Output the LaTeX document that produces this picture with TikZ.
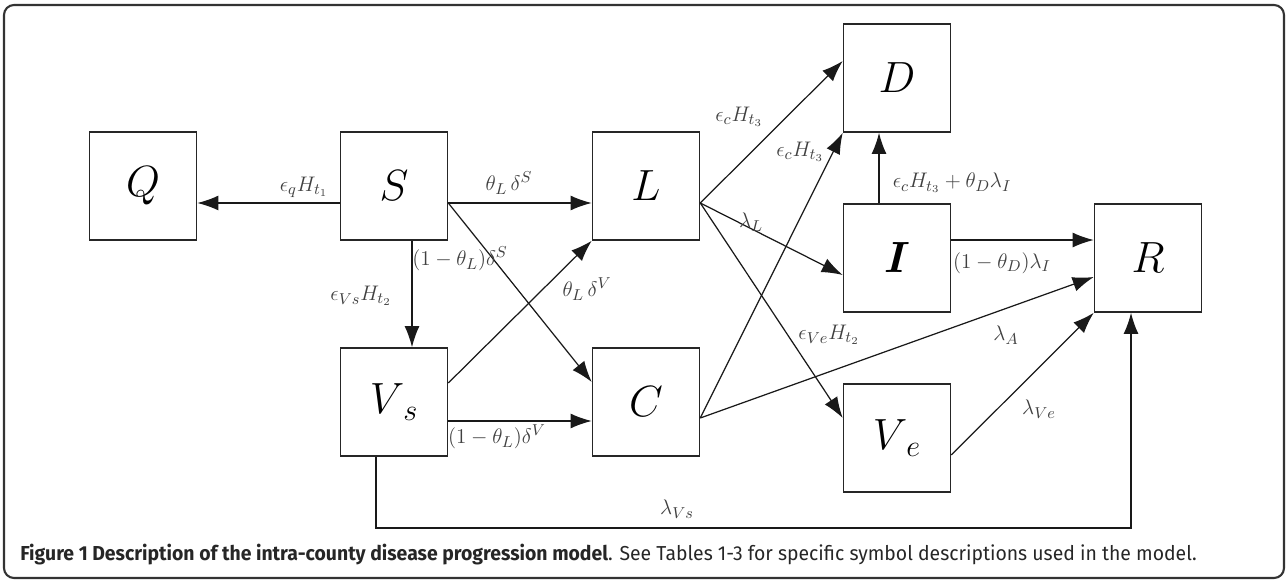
\documentclass[tikz,border=0pt]{standalone}
\usepackage{amsmath,amssymb}
\usepackage{fontspec}
\newfontfamily\capfont{Fira Sans}[FakeStretch=0.96]
\usepackage{tikz}
\usetikzlibrary{arrows.meta}

\begin{document}
\begin{tikzpicture}[x=0.02cm, y=-0.02cm,
      compart/.style={draw=black!85, line width=0.9pt, minimum width=2.14cm,
        minimum height=2.16cm, inner sep=0pt, font=\fontsize{25}{29}\selectfont},
      rate/.style={font=\fontsize{12.5}{14}\selectfont, text=black!75, inner sep=1pt},
      flow/.style={-{Latex[length=12pt,width=8.5pt]}, line width=0.7pt, black!90},
    ]
    \useasboundingbox (0,0) rectangle (1287,581);
    \draw[black!80, line width=1.2pt, rounded corners=0.2cm] (4,5) rectangle (1284,578);
    \node[compart] (Q) at (143,186) {$Q$};
    \node[compart] (S) at (394,186) {$S$};
    \node[compart] (L) at (646,186) {$L$};
    \node[compart] (D) at (897,78) {$D$};
    \node[compart] (I) at (897,258) {$\boldsymbol{I}$};
    \node[compart] (R) at (1148,258) {$R$};
    \node[compart] (Vs) at (394,402) {$V_{\;s}$};
    \node[compart] (C) at (646,402) {$C$};
    \node[compart] (Ve) at (897,438) {$V_{\;e}$};
    \coordinate (low) at (0,528);
    \draw[flow] ([yshift=-0.34cm]S.west) -- ([yshift=-0.34cm]Q.east);
    \draw[flow] ([yshift=-0.34cm]S.east) -- ([yshift=-0.34cm]L.west);
    \draw[flow] ([xshift=0.36cm]S.south) -- ([xshift=0.36cm]Vs.north);
    \draw[flow] ([yshift=-0.34cm]S.east) -- ([yshift=0.4cm]C.west);
    \draw[flow] ([yshift=0.38cm]Vs.east) -- (L.south west);
    \draw[flow] ([yshift=-0.38cm]Vs.east) -- ([yshift=-0.38cm]C.west);
    \draw[flow] ([yshift=-0.34cm]L.east) -- ([yshift=0.34cm]D.west);
    \draw[flow] ([yshift=-0.34cm]L.east) -- ([yshift=-0.34cm]I.west);
    \draw[flow] ([yshift=-0.34cm]L.east) -- ([yshift=0.4cm]Ve.west);
    \draw[flow] ([yshift=-0.32cm]C.east) -- (D.south west);
    \draw[flow] ([yshift=-0.32cm]C.east) -- ([yshift=-0.38cm]R.west);
    \draw[flow] ([xshift=-0.36cm]I.north) -- ([xshift=-0.36cm]D.south);
    \draw[flow] ([yshift=0.36cm]I.east) -- ([yshift=0.36cm]R.west);
    \draw[flow] ([yshift=-0.34cm]Ve.east) -- (R.south west);
    \draw[flow] ([xshift=-0.36cm]Vs.south) |- ([xshift=-0.34cm]R.south |- low)
      -- ([xshift=-0.34cm]R.south);
    \node[rate] (sq) at (304,187) {$\epsilon_q H_{t_1}$};
    \node[rate] (sl) at (509,183) {$\theta_L\,\delta^S$};
    \node[rate] (sc) at (460,259) {$(1-\theta_L)\delta^S$};
    \node[rate] (svs) at (361,296) {$\epsilon_{Vs} H_{t_2}$};
    \node[rate] (vsl) at (587,289) {$\theta_L\,\delta^V$};
    \node[rate] (vsc) at (497,437) {$(1-\theta_L)\delta^V$};
    \node[rate] (ld) at (739,117) {$\epsilon_c H_{t_3}$};
    \node[rate] (cd) at (800,152) {$\epsilon_c H_{t_3}$};
    \node[rate] (li) at (751,222) {$\lambda_L$};
    \node[rate] (id) at (952,183) {$\epsilon_c H_{t_3}+\theta_D\lambda_I$};
    \node[rate] (ir) at (1002,263) {$(1-\theta_D)\lambda_I$};
    \node[rate] (lve) at (829,335) {$\epsilon_{Ve} H_{t_2}$};
    \node[rate] (cr) at (1006,335) {$\lambda_A$};
    \node[rate] (ver) at (1039,409) {$\lambda_{Ve}$};
    \node[rate] (vsr) at (677,509) {$\lambda_{Vs}$};
    \node[anchor=west, inner sep=0pt, text=black!85,
      font=\capfont\fontsize{11.5}{14}\selectfont] (cap) at (20,555)
      {\textbf{Figure 1 Description of the intra-county disease progression model}. See Tables 1-3 for specific symbol descriptions used in the model.};
  \end{tikzpicture}
\end{document}
